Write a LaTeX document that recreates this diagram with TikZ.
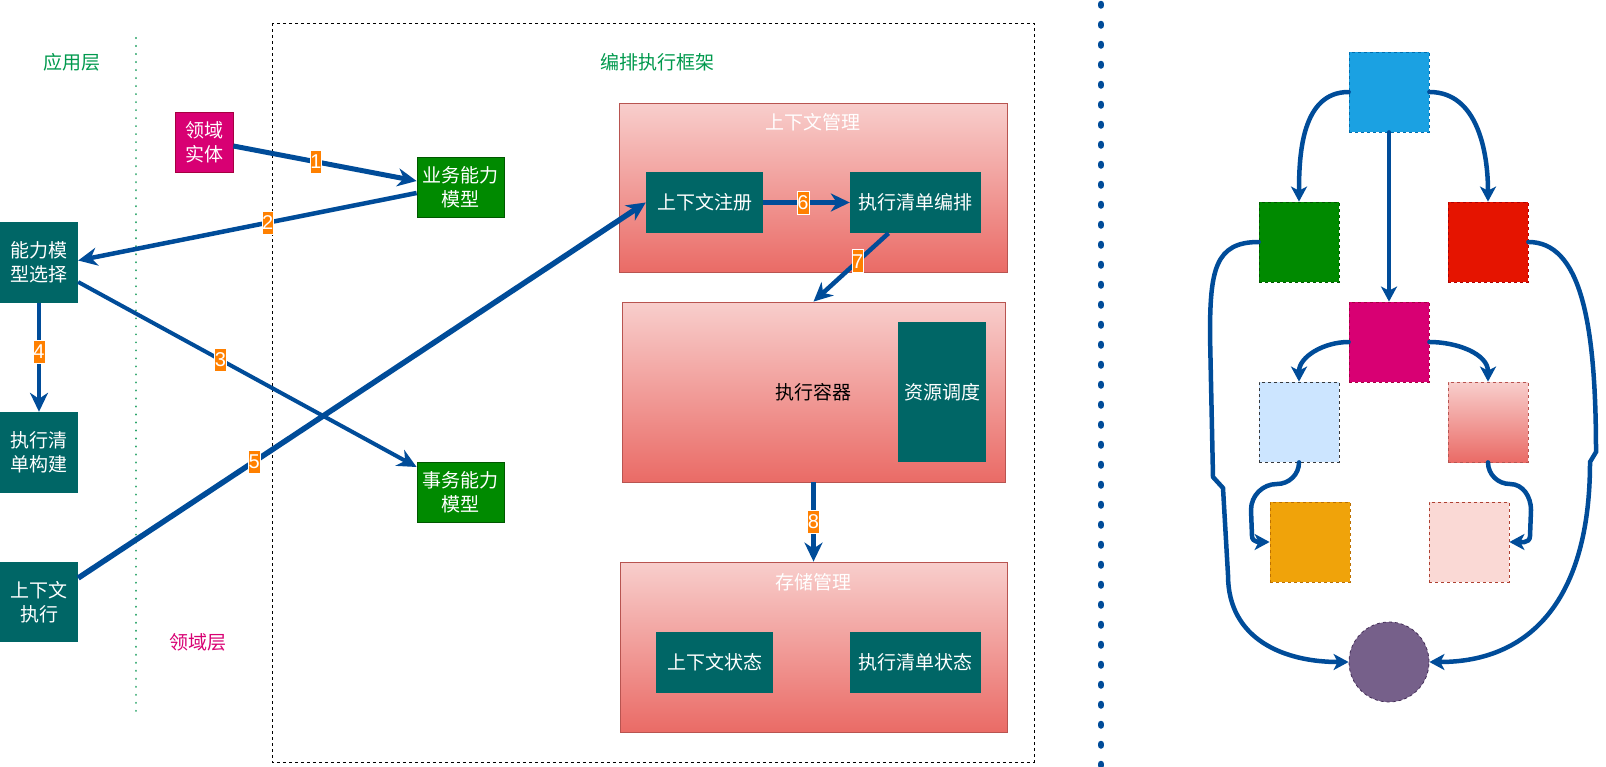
\documentclass[tikz,border=0pt]{standalone}
\usepackage{fontspec}
\setmainfont{Noto Sans CJK SC}
\newfontfamily\numfont{Liberation Sans}
\usetikzlibrary{arrows.meta}

\definecolor{tealbox}{HTML}{006666}
\definecolor{greenbox}{HTML}{008A00}
\definecolor{greenline}{HTML}{005700}
\definecolor{magbox}{HTML}{D80073}
\definecolor{magline}{HTML}{A50040}
\definecolor{flowblue}{HTML}{004C99}
\definecolor{numorange}{HTML}{FF8000}
\definecolor{pinktop}{HTML}{F8CECC}
\definecolor{pinkbot}{HTML}{EA6B66}
\definecolor{pinkline}{HTML}{B85450}
\definecolor{layergreen}{HTML}{00994D}
\definecolor{layerpink}{HTML}{D80073}
\definecolor{dotgreen}{HTML}{2DA56B}
\definecolor{skyblue}{HTML}{1BA1E2}
\definecolor{skyline}{HTML}{006EAF}
\definecolor{redbox}{HTML}{E51400}
\definecolor{redline}{HTML}{B20000}
\definecolor{paleblue}{HTML}{CCE5FF}
\definecolor{paleline}{HTML}{36393D}
\definecolor{amberbox}{HTML}{F0A30A}
\definecolor{amberline}{HTML}{BD7000}
\definecolor{blushbox}{HTML}{FAD9D5}
\definecolor{blushline}{HTML}{AE4132}
\definecolor{plumbox}{HTML}{76608A}
\definecolor{plumline}{HTML}{432D57}

\begin{document}
\begin{tikzpicture}[x=1pt,y=-1pt]
\tikzset{
  cjktext/.style={font=\fontsize{19}{24}\selectfont},
  block/.style={rectangle,inner sep=0pt,align=center,text=white,cjktext},
  tealblock/.style={block,fill=tealbox},
  greenblock/.style={block,fill=greenbox,draw=greenline,line width=0.8pt},
  panel/.style={rectangle,draw=pinkline,line width=0.8pt,top color=pinktop,bottom color=pinkbot,inner sep=0pt,cjktext},
  layertext/.style={inner sep=0pt,cjktext},
  flow/.style={-{Stealth[length=19pt,width=18pt,inset=6pt]},line width=4.5pt,draw=flowblue},
  numtag/.style={fill=numorange,draw=white,line width=0.6pt,text=white,inner xsep=0.3pt,inner ysep=0pt,minimum height=23pt,font=\numfont\fontsize{20}{20}\selectfont},
  swatch/.style={rectangle,minimum size=80pt,inner sep=0pt,dashed,line width=0.8pt},
  bendflow/.style={-{Stealth[length=15pt,width=16pt,inset=4pt]},line width=4.5pt,draw=flowblue,line cap=round}
}
\useasboundingbox (0,0) rectangle (1606,766);

% layers and frame
\draw[dotgreen,line width=2.2pt,line cap=round,dash pattern=on 0.01pt off 8pt] (136,38) -- (136,712);
\draw[line width=1pt,dash pattern=on 3pt off 3pt] (272,23) rectangle (1034,762);
\draw[flowblue,line width=6.5pt,line cap=round,dash pattern=on 1.5pt off 18.5pt] (1101,4) -- (1101,766);
\node[layertext,text=layergreen] (n_applayer) at (72,62) {应用层};
\node[layertext,text=layerpink] (n_domainlayer) at (198,642) {领域层};
\node[layertext,text=layergreen] (n_frame) at (657,62) {编排执行框架};

% application layer
\node[tealblock,minimum width=78pt,minimum height=81pt] (n_select) at (39,262.5) {能力模\\型选择};
\node[tealblock,minimum width=78pt,minimum height=81pt] (n_build) at (39,452.5) {执行清\\单构建};
\node[tealblock,minimum width=78pt,minimum height=80pt] (n_ctxexec) at (39,602) {上下文\\执行};

% domain layer
\node[block,fill=magbox,draw=magline,line width=0.8pt,minimum width=58pt,minimum height=60pt] (n_entity) at (204,142) {领域\\实体};
\node[greenblock,minimum width=87pt,minimum height=60pt] (n_bizmodel) at (460.5,187) {业务能力\\模型};
\node[greenblock,minimum width=87pt,minimum height=60pt] (n_txmodel) at (460.5,492) {事务能力\\模型};

% orchestration framework
\node[panel,minimum width=388pt,minimum height=169pt] (n_ctxmgr) at (813,187.5) {};
\node[layertext,text=white] (n_ctxmgr_title) at (813,122) {上下文管理};
\node[tealblock,minimum width=117pt,minimum height=61pt] (n_reg) at (704.5,202.5) {上下文注册};
\node[tealblock,minimum width=131pt,minimum height=61pt] (n_orch) at (915.5,202.5) {执行清单编排};

\node[panel,minimum width=383pt,minimum height=180pt] (n_container) at (813.5,392) {执行容器};
\node[tealblock,minimum width=88pt,minimum height=140pt] (n_sched) at (942,392) {资源调度};

\node[panel,minimum width=387pt,minimum height=170pt] (n_store) at (813.5,647) {};
\node[layertext,text=white] (n_store_title) at (813.5,582) {存储管理};
\node[tealblock,minimum width=117pt,minimum height=61pt] (n_ctxstate) at (714.5,662.5) {上下文状态};
\node[tealblock,minimum width=131pt,minimum height=61pt] (n_liststate) at (915.5,662.5) {执行清单状态};

% numbered flows
\draw[flow,line width=5pt] ([yshift=-4pt]n_entity.east) -- node[numtag,pos=0.45] {1} ([yshift=6pt]n_bizmodel.west);
\draw[flow] ([yshift=-6pt]n_bizmodel.west) -- node[numtag,pos=0.44] {2} ([yshift=2pt]n_select.east);
\draw[flow,line width=4pt] ([yshift=-19.5pt]n_select.east) -- node[numtag,pos=0.42] {3} ([yshift=25pt]n_txmodel.west);
\draw[flow] (n_select.south) -- node[numtag,pos=0.45] {4} (n_build.north);
\draw[flow,line width=5.5pt] ([yshift=24pt]n_ctxexec.east) -- node[numtag,pos=0.31] {5} (n_reg.west);
\draw[flow] (n_reg.east) -- node[numtag,pos=0.46] {6} (n_orch.west);
\draw[flow] ([xshift=-27pt]n_orch.south) -- node[numtag,pos=0.41] {7} (n_container.north);
\draw[flow] (n_container.south) -- node[numtag,pos=0.5] {8} (n_store.north);

% right-hand sketch
\node[swatch,fill=skyblue,draw=skyline] (n_top) at (1389,92) {};
\node[swatch,fill=greenbox,draw=greenline] (n_green) at (1299,242) {};
\node[swatch,fill=redbox,draw=redline] (n_red) at (1488,242) {};
\node[swatch,fill=magbox,draw=magline] (n_mag) at (1389,342) {};
\node[swatch,fill=paleblue,draw=paleline] (n_pale) at (1299,422) {};
\node[swatch,top color=pinktop,bottom color=pinkbot,draw=pinkline] (n_grad) at (1488,422) {};
\node[swatch,fill=amberbox,draw=amberline] (n_amber) at (1310,542) {};
\node[swatch,fill=blushbox,draw=blushline] (n_blush) at (1469,542) {};
\node[swatch,circle,fill=plumbox,draw=plumline] (n_end) at (1389,662) {};

\draw[bendflow] (n_top.west) to[out=180,in=90] (n_green.north);
\draw[bendflow] (n_top.east) to[out=0,in=90] (n_red.north);
\draw[bendflow] (n_top.south) -- (n_mag.north);
\draw[bendflow] (n_mag.west) to[out=180,in=90] (n_pale.north);
\draw[bendflow] (n_mag.east) to[out=0,in=90] (n_grad.north);
\draw[bendflow] (n_pale.south) to[out=-90,in=0] (1277,484) to[out=180,in=90] (1251,510) -- (1252,536) to[out=-90,in=180] (n_amber.west);
\draw[bendflow] (n_grad.south) to[out=-90,in=180] (1510,484) to[out=0,in=90] (1531,510) -- (1530,536) to[out=-90,in=0] (n_blush.east);
\draw[bendflow] (n_green.west) .. controls (1215,242) and (1210,270) .. (1210,335) -- (1213,477) -- (1223,488) -- (1228,575) .. controls (1228,640) and (1285,662) .. (n_end.west);
\draw[bendflow] (n_red.east) .. controls (1580,242) and (1596,320) .. (1596,452) -- (1590,462) .. controls (1590,600) and (1530,662) .. (n_end.east);
\end{tikzpicture}
\end{document}
